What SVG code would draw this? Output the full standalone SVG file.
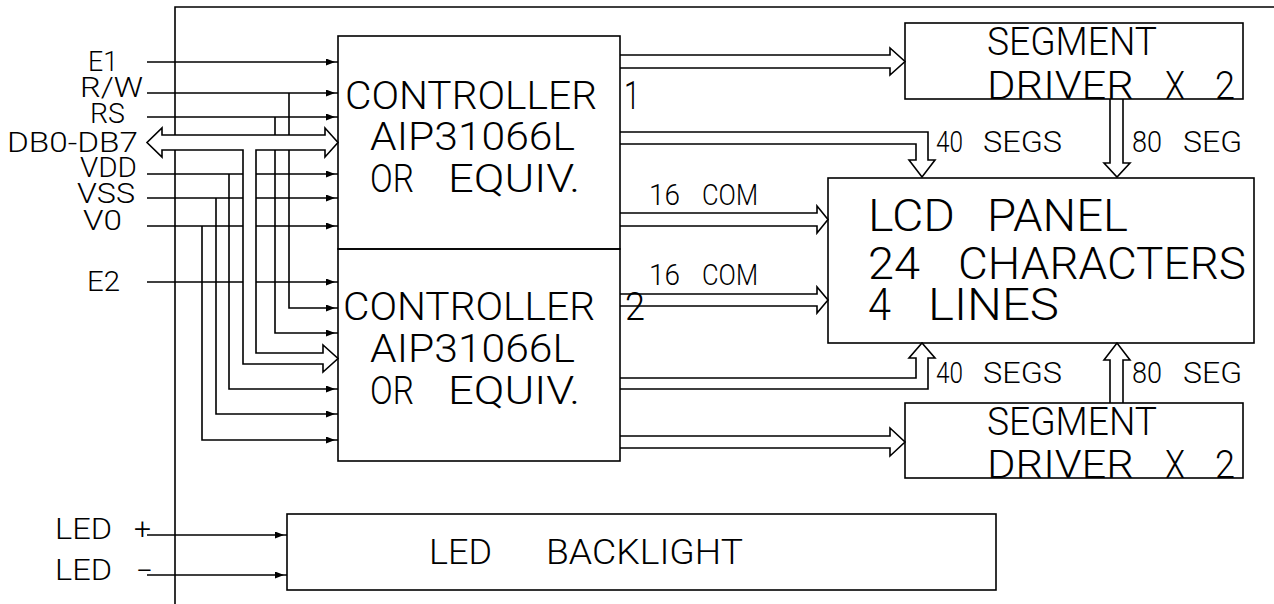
<svg xmlns="http://www.w3.org/2000/svg" width="1274" height="604" viewBox="0 0 1274 604">
<style>
.ln{fill:none;stroke:#000;stroke-width:1.6}
.bx{fill:none;stroke:#000;stroke-width:1.6}
.bus{fill:#fff;stroke:#000;stroke-width:1.6;stroke-linejoin:miter}
.sig{fill:none;stroke:#000;stroke-width:1.6;marker-end:url(#sa)}
text{font-family:Roboto,"Liberation Sans",sans-serif;font-weight:300;fill:#000}
.lab{font-size:27px}
.ctl{font-size:39px}
.seg{font-size:38px}
.lcd{font-size:45px}
.sm{font-size:29px}
.led{font-size:29px}
.bl{font-size:35px}
</style>
<defs>
<marker id="sa" markerUnits="userSpaceOnUse" markerWidth="9" markerHeight="7" refX="12" refY="3.5" orient="auto">
<path d="M0,0 L9,3.5 L0,7 Z" fill="#000"/>
</marker>
</defs>
<rect width="1274" height="604" fill="#fff"/>

<g id="frame">
<path class="ln" d="M175,604 V7 H1274"/>
</g>

<g id="connectors">
<path class="sig" d="M147,62 H338"/>
<path class="sig" d="M147,93 H338"/>
<path class="sig" d="M147,117 H338"/>
<path class="sig" d="M147,174 H338"/>
<path class="sig" d="M147,198 H338"/>
<path class="sig" d="M147,226 H338"/>
<path class="sig" d="M147,282 H338"/>
<path class="sig" d="M289,93 V308 H338"/>
<path class="sig" d="M275,117 V333 H338"/>
<path class="sig" d="M229,174 V389 H338"/>
<path class="sig" d="M216,198 V414 H338"/>
<path class="sig" d="M202,226 V440 H338"/>
<path class="bus" d="M162,135 H325 V128 L338,142.5 L325,157 V150 H256 V353 H323 V345 L338,358.5 L323,372 V364 H243 V150 H162 V157 L147,142.5 L162,128 Z"/>
<path class="bus" d="M620,55 H890 V48 L905,61.5 L890,75 V68 H620"/>
<path class="bus" d="M620,132 H928 V160 H935 L922,177 L909,160 H916 V144 H620"/>
<path class="bus" d="M620,213 H817 V206 L828,219.5 L817,233 V226 H620"/>
<path class="bus" d="M620,294 H817 V287 L828,300 L817,313 V306 H620"/>
<path class="bus" d="M620,389 H928 V358 H935 L922,343 L909,358 H916 V378 H620"/>
<path class="bus" d="M620,436 H890 V428 L905,442 L890,456 V448 H620"/>
<path class="bus" d="M1110,99 V163 H1104 L1117,177 L1130,163 H1123 V99"/>
<path class="bus" d="M1110,403 V360 H1104 L1117,343 L1130,360 H1123 V403"/>
<path class="sig" d="M147,535 H287"/>
<path class="sig" d="M147,575 H287"/>
</g>

<g id="labels">
<text class="lab" x="88" y="71" textLength="30" lengthAdjust="spacingAndGlyphs">E1</text>
<text class="lab" x="80" y="97" textLength="63" lengthAdjust="spacingAndGlyphs">R/W</text>
<text class="lab" x="90" y="123" textLength="35" lengthAdjust="spacingAndGlyphs">RS</text>
<text class="lab" x="7" y="152" textLength="131" lengthAdjust="spacingAndGlyphs">DB0-DB7</text>
<text class="lab" x="80" y="177" textLength="57" lengthAdjust="spacingAndGlyphs">VDD</text>
<text class="lab" x="77" y="203" textLength="58" lengthAdjust="spacingAndGlyphs">VSS</text>
<text class="lab" x="83" y="230" textLength="39" lengthAdjust="spacingAndGlyphs">V0</text>
<text class="lab" x="87" y="291" textLength="33" lengthAdjust="spacingAndGlyphs">E2</text>
<text class="led" y="539"><tspan x="55" textLength="57" lengthAdjust="spacingAndGlyphs">LED</tspan><tspan x="134" textLength="17" lengthAdjust="spacingAndGlyphs">+</tspan></text>
<text class="led" y="580"><tspan x="55" textLength="57" lengthAdjust="spacingAndGlyphs">LED</tspan><tspan x="137" textLength="15" lengthAdjust="spacingAndGlyphs">-</tspan></text>
<text class="sm" y="205"><tspan x="649" textLength="31" lengthAdjust="spacingAndGlyphs">16</tspan><tspan x="702" textLength="56" lengthAdjust="spacingAndGlyphs">COM</tspan></text>
<text class="sm" y="285"><tspan x="649" textLength="31" lengthAdjust="spacingAndGlyphs">16</tspan><tspan x="702" textLength="56" lengthAdjust="spacingAndGlyphs">COM</tspan></text>
<text class="sm" y="152"><tspan x="936" textLength="27" lengthAdjust="spacingAndGlyphs">40</tspan><tspan x="983" textLength="79" lengthAdjust="spacingAndGlyphs">SEGS</tspan></text>
<text class="sm" y="152"><tspan x="1132" textLength="30" lengthAdjust="spacingAndGlyphs">80</tspan><tspan x="1183" textLength="59" lengthAdjust="spacingAndGlyphs">SEG</tspan></text>
<text class="sm" y="383"><tspan x="936" textLength="27" lengthAdjust="spacingAndGlyphs">40</tspan><tspan x="983" textLength="79" lengthAdjust="spacingAndGlyphs">SEGS</tspan></text>
<text class="sm" y="383"><tspan x="1132" textLength="30" lengthAdjust="spacingAndGlyphs">80</tspan><tspan x="1183" textLength="59" lengthAdjust="spacingAndGlyphs">SEG</tspan></text>
</g>

<g id="controller1">
<rect class="bx" x="338" y="36" width="282" height="213"/>
<text class="ctl" y="109"><tspan x="345" textLength="252" lengthAdjust="spacingAndGlyphs">CONTROLLER</tspan><tspan x="624" textLength="16" lengthAdjust="spacingAndGlyphs">1</tspan></text>
<text class="ctl" x="370" y="150" textLength="205" lengthAdjust="spacingAndGlyphs">AIP31066L</text>
<text class="ctl" y="192"><tspan x="370" textLength="44" lengthAdjust="spacingAndGlyphs">OR</tspan><tspan x="448" textLength="132" lengthAdjust="spacingAndGlyphs">EQUIV.</tspan></text>
</g>

<g id="controller2">
<rect class="bx" x="338" y="249" width="282" height="212"/>
<text class="ctl" y="320"><tspan x="343" textLength="252" lengthAdjust="spacingAndGlyphs">CONTROLLER</tspan><tspan x="625" textLength="20" lengthAdjust="spacingAndGlyphs">2</tspan></text>
<text class="ctl" x="370" y="362" textLength="205" lengthAdjust="spacingAndGlyphs">AIP31066L</text>
<text class="ctl" y="404"><tspan x="370" textLength="44" lengthAdjust="spacingAndGlyphs">OR</tspan><tspan x="448" textLength="132" lengthAdjust="spacingAndGlyphs">EQUIV.</tspan></text>
</g>

<g id="segdriver1">
<rect class="bx" x="905" y="23" width="338" height="76"/>
<text class="seg" x="987" y="55" textLength="170" lengthAdjust="spacingAndGlyphs">SEGMENT</text>
<text class="seg" y="99"><tspan x="987" textLength="147" lengthAdjust="spacingAndGlyphs">DRIVER</tspan><tspan x="1165" textLength="20" lengthAdjust="spacingAndGlyphs">X</tspan><tspan x="1215" textLength="20" lengthAdjust="spacingAndGlyphs">2</tspan></text>
</g>

<g id="lcdpanel">
<rect class="bx" x="828" y="178" width="426" height="165"/>
<text class="lcd" y="231"><tspan x="868" textLength="87" lengthAdjust="spacingAndGlyphs">LCD</tspan><tspan x="987" textLength="141" lengthAdjust="spacingAndGlyphs">PANEL</tspan></text>
<text class="lcd" y="279"><tspan x="868" textLength="52" lengthAdjust="spacingAndGlyphs">24</tspan><tspan x="958" textLength="288" lengthAdjust="spacingAndGlyphs">CHARACTERS</tspan></text>
<text class="lcd" y="320"><tspan x="868" textLength="23" lengthAdjust="spacingAndGlyphs">4</tspan><tspan x="928" textLength="131" lengthAdjust="spacingAndGlyphs">LINES</tspan></text>
</g>

<g id="segdriver2">
<rect class="bx" x="905" y="403" width="338" height="75"/>
<text class="seg" x="987" y="435" textLength="170" lengthAdjust="spacingAndGlyphs">SEGMENT</text>
<text class="seg" y="478"><tspan x="987" textLength="147" lengthAdjust="spacingAndGlyphs">DRIVER</tspan><tspan x="1165" textLength="20" lengthAdjust="spacingAndGlyphs">X</tspan><tspan x="1215" textLength="20" lengthAdjust="spacingAndGlyphs">2</tspan></text>
</g>

<g id="backlight">
<rect class="bx" x="287" y="514" width="709" height="76"/>
<text class="bl" y="564"><tspan x="429" textLength="63" lengthAdjust="spacingAndGlyphs">LED</tspan><tspan x="546" textLength="197" lengthAdjust="spacingAndGlyphs">BACKLIGHT</tspan></text>
</g>
</svg>
